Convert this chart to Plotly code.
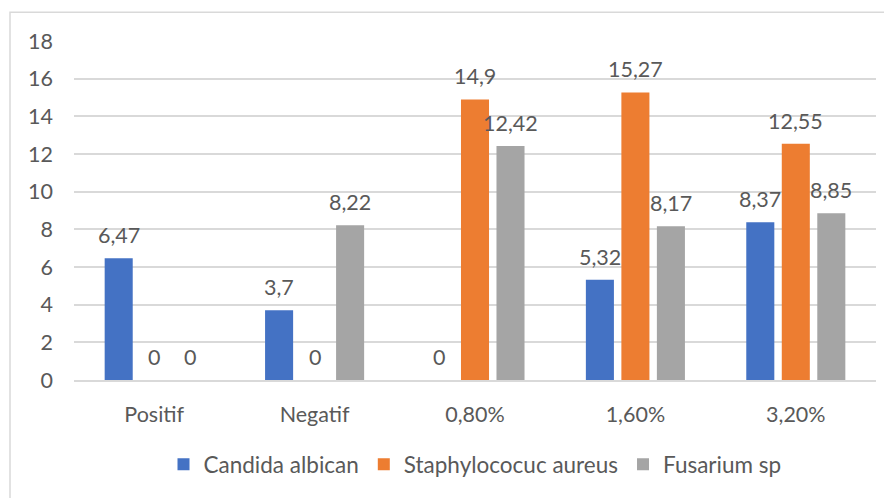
import plotly.graph_objects as go

categories = ["Positif", "Negatif", "0,80%", "1,60%", "3,20%"]
candida = [6.47, 3.7, 0, 5.32, 8.37]
staph = [0, 0, 14.9, 15.27, 12.55]
fusarium = [0, 8.22, 12.42, 8.17, 8.85]
series_names = ["Candida albican", "Staphylococuc aureus", "Fusarium sp"]
colors = ["#4472C4", "#ED7D31", "#A5A5A5"]
y_ticks = [0, 2, 4, 6, 8, 10, 12, 14, 16, 18]

FONT = "Lato"
FS = 21.5
TXT = "#595959"
OFF = 8  # page body margin
W, H = 892 - OFF, 498 - OFF
L, R, T, B = 74 - OFF, 16, 41 - OFF, 116
pw, ph = W - L - R, H - T - B

def fmt(v):
    return f"{v:g}".replace(".", ",")

fig = go.Figure()
all_series = [candida, staph, fusarium]
for name, vals, col in zip(series_names, all_series, colors):
    fig.add_trace(go.Bar(x=categories, y=vals, name=name, marker_color=col,
                         marker_line_width=0))

annotations = []
slot = pw / len(categories) * (1 - 0.336) / 3
for i, vals in enumerate(all_series):
    for c, v in zip(categories, vals):
        annotations.append(dict(x=c, y=v, xref="x", yref="y", text=fmt(v),
                                showarrow=False, xshift=(i - 1) * slot, yshift=23,
                                font=dict(family=FONT, size=FS, color=TXT)))

def px_x(p):
    return (p - OFF - L) / pw

def px_y(p):
    return (H - B - (p - OFF)) / ph

fig.update_layout(
    width=W, height=H,
    margin=dict(l=L, r=R, t=T, b=B),
    paper_bgcolor="white", plot_bgcolor="white",
    barmode="group", bargap=0.336, bargroupgap=0.21,
    font=dict(family=FONT, size=FS, color=TXT),
    xaxis=dict(showgrid=False, showline=True, linecolor="#D9D9D9", linewidth=1.5,
               ticks="", tickfont=dict(family=FONT, size=FS, color=TXT),
               ticklabelstandoff=14),
    yaxis=dict(range=[0, 18], tickvals=y_ticks, showgrid=True, gridcolor="#D9D9D9",
               gridwidth=1.5, zeroline=False, showline=False, ticks="",
               tickfont=dict(family=FONT, size=FS, color=TXT), ticklabelstandoff=20),
    legend=dict(orientation="h", x=0.5, xanchor="center", y=px_y(467), yanchor="middle",
                font=dict(family=FONT, size=22.5, color=TXT), itemwidth=30,
                traceorder="normal"),
    annotations=annotations,
    shapes=[dict(type="rect", xref="paper", yref="paper",
                 x0=px_x(10), y0=px_y(540), x1=px_x(940), y1=px_y(12),
                 line=dict(color="#D9D9D9", width=1.5), layer="below")],
)

fig.write_html("out.html")
